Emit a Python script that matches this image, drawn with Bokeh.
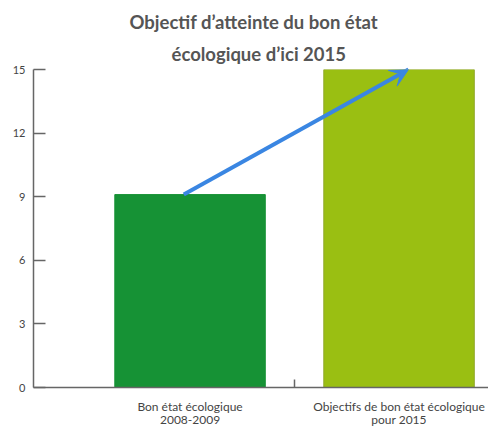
from bokeh.plotting import figure
from bokeh.models import Range1d, FixedTicker, Title, Arrow, VeeHead
from bokeh.embed import file_html
from bokeh.resources import INLINE

categories = ["Bon état écologique\n2008-2009", "Objectifs de bon état écologique\npour 2015"]
values = [9.1, 15]
y_ticks = [0, 3, 6, 9, 12, 15]
title_lines = ["Objectif d\u2019atteinte du bon état", "écologique d\u2019ici 2015"]

bar_colors = ["#169235", "#9abf12"]
bar_lines = ["#169235", "#8fa82a"]
centers = [i + 0.5 for i in range(len(categories))]

p = figure(frame_width=455, frame_height=318, output_backend="svg", toolbar_location=None,
           x_range=Range1d(-0.249, 1.928), y_range=Range1d(0, 15),
           min_border_left=33, min_border_right=0, min_border_bottom=5,
           min_border_top=69)
p.outline_line_color = None
p.grid.visible = False
p.background_fill_color = "white"

p.vbar(x=centers, top=values, width=0.72, fill_color=bar_colors,
       line_color=bar_lines, line_width=1)

arrow = Arrow(x_start=centers[0] - 0.03, y_start=values[0],
              x_end=centers[1] + 0.045, y_end=values[1],
              line_color="#3a86e2", line_width=4,
              end=VeeHead(size=18, fill_color="#3a86e2", line_color="#3a86e2"))
p.add_layout(arrow)

# y axis
ya = p.yaxis[0]
ya.ticker = FixedTicker(ticks=y_ticks)
ya.major_tick_in = 12
ya.major_tick_out = 0
ya.minor_tick_in = 0
ya.minor_tick_out = 0
ya.major_label_standoff = 8
ya.axis_line_color = "#666666"
ya.axis_line_width = 1.5
ya.major_tick_line_color = "#666666"
ya.major_tick_line_width = 1.5
ya.major_label_text_font = "Lato"
ya.major_label_text_font_size = "11px"
ya.major_label_text_color = "#444444"

# x axis
xa = p.xaxis[0]
xa.ticker = FixedTicker(ticks=centers, minor_ticks=[1.0])
xa.major_label_overrides = {c: lab for c, lab in zip(centers, categories)}
xa.major_tick_in = 0
xa.major_tick_out = 0
xa.minor_tick_in = 8
xa.minor_tick_out = 0
xa.minor_tick_line_color = "#666666"
xa.minor_tick_line_width = 1.5
xa.axis_line_color = "#666666"
xa.axis_line_width = 1.5
xa.major_label_standoff = 11
xa.major_label_text_font = "Lato"
xa.major_label_text_font_size = "12px"
xa.major_label_text_color = "#444444"
xa.major_label_text_line_height = 0.9

title_offsets = [96, 138]
for i, line in reversed(list(enumerate(title_lines))):
    p.add_layout(Title(text=line, align="left", offset=title_offsets[i], text_font="Lato",
                       text_font_size="18.5px", text_font_style="bold",
                       text_color="#555555", standoff=10 if i == 1 else 5), "above")

open("out.html", "w").write(file_html(p, INLINE))
